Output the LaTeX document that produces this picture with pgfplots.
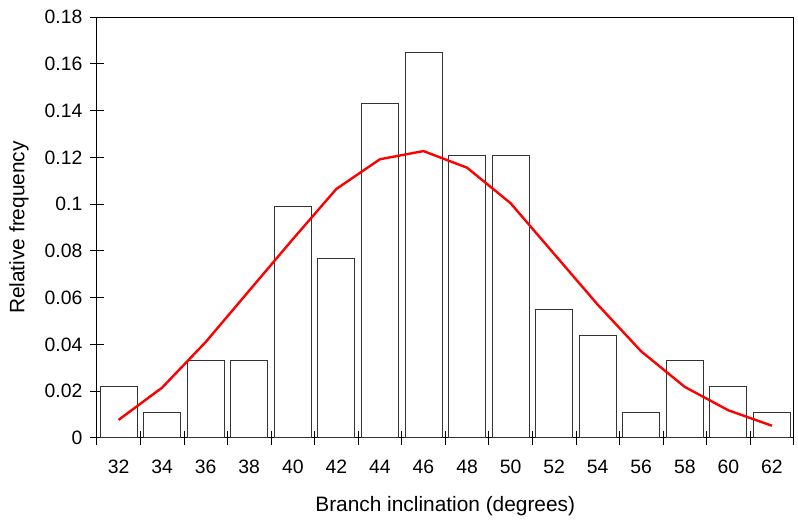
\documentclass[border={6bp 6bp 1bp 7bp}]{standalone}
\usepackage{pgfplots}
\pgfplotsset{compat=1.18}
\usepackage{fontspec}
\setmainfont{Liberation Sans}
\begin{document}
\begin{tikzpicture}
\begin{axis}[
  scale only axis,
  width=699bp, height=422bp,
  xmin=-0.5, xmax=15.5,
  ymin=0, ymax=0.18,
  axis line style={black, line width=1bp},
  tick style={black, line width=0.8bp},
  tick align=center,
  major tick length=14bp,
  ytick={0,0.02,0.04,0.06,0.08,0.1,0.12,0.14,0.16,0.18},
  yticklabels={0,0.02,0.04,0.06,0.08,0.1,0.12,0.14,0.16,0.18},
  ytick pos=left,
  xtick pos=bottom,
  xtick={-0.5,0.5,...,15.5},
  xticklabels={},
  extra x ticks={0,1,...,15},
  extra x tick labels={32,34,36,38,40,42,44,46,48,50,52,54,56,58,60,62},
  extra x tick style={major tick length=0pt, tick style={draw=none}},
  ticklabel style={font=\fontsize{19.5}{22}\selectfont},
  label style={font=\fontsize{21}{24}\selectfont},
  xticklabel style={yshift=-19bp},
  yticklabel style={xshift=-4bp},
  xlabel={Branch inclination (degrees)},
  ylabel={Relative frequency},
  xlabel style={at={(axis description cs:0.5,-0.161)}, anchor=center},
  ylabel style={at={(axis description cs:-0.1116,0.5)}, anchor=center},
]
\addplot[ybar, bar width=0.85, draw=black!80, line width=0.9bp, fill=white, bar shift=0pt]
  coordinates {(0,0.022) (1,0.011) (2,0.033) (3,0.033) (4,0.0989) (5,0.0769)
  (6,0.1429) (7,0.1648) (8,0.1209) (9,0.1209) (10,0.0549) (11,0.044)
  (12,0.011) (13,0.033) (14,0.022) (15,0.011)};
\addplot[red, line width=2.4bp, mark=none]
  coordinates {(0,0.0077) (1,0.0215) (2,0.041) (3,0.063) (4,0.085) (5,0.1065)
  (6,0.1192) (7,0.1227) (8,0.1156) (9,0.1004) (10,0.0787) (11,0.057)
  (12,0.037) (13,0.0218) (14,0.0118) (15,0.0052)};
\end{axis}
\end{tikzpicture}
\end{document}
